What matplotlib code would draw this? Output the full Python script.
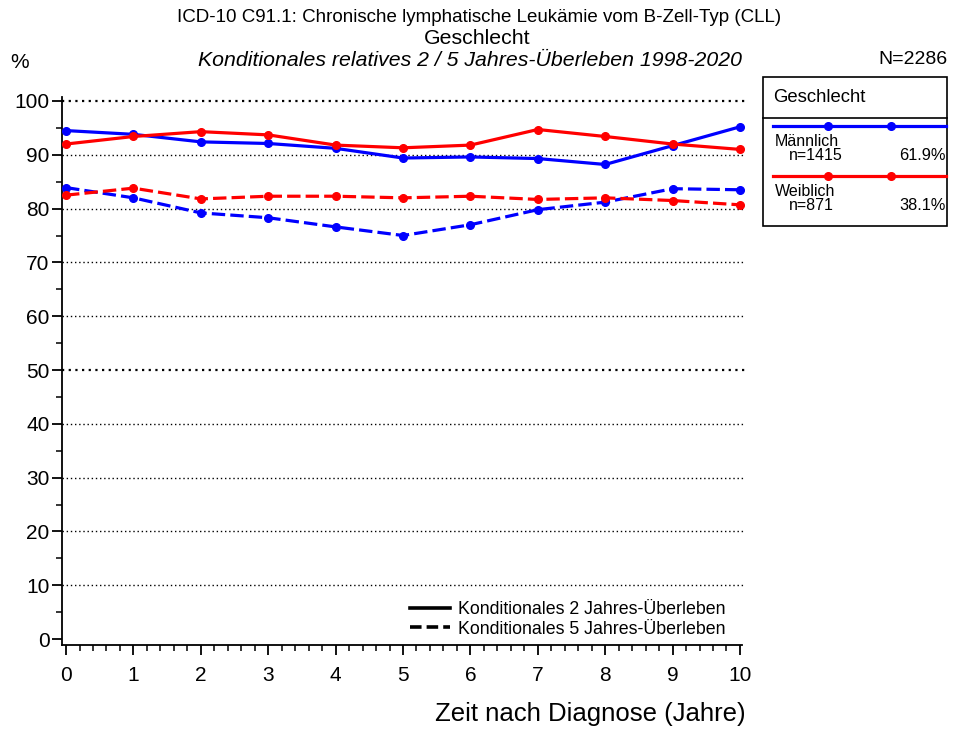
import matplotlib
matplotlib.use("Agg")
import matplotlib.pyplot as plt
from matplotlib.lines import Line2D
from matplotlib.patches import Rectangle

plt.rcParams['font.family'] = ['Liberation Sans', 'DejaVu Sans']

years = [0, 1, 2, 3, 4, 5, 6, 7, 8, 9, 10]
male_2y = [94.5, 93.8, 92.4, 92.1, 91.2, 89.4, 89.6, 89.3, 88.2, 91.7, 95.2]
female_2y = [92.0, 93.4, 94.3, 93.7, 91.8, 91.3, 91.8, 94.7, 93.4, 92.0, 91.0]
male_5y = [83.9, 82.0, 79.2, 78.3, 76.6, 75.0, 77.0, 79.8, 81.2, 83.7, 83.5]
female_5y = [82.5, 83.8, 81.8, 82.3, 82.3, 82.0, 82.3, 81.7, 82.0, 81.5, 80.7]

groups = ["Männlich", "Weiblich"]
group_n = ["n=1415", "n=871"]
group_pct = ["61.9%", "38.1%"]
colors = ["#0000ff", "#ff0000"]

yticks = [0, 10, 20, 30, 40, 50, 60, 70, 80, 90, 100]

W, H = 958, 729
fig = plt.figure(figsize=(W / 100, H / 100), dpi=100)

# axes box in pixel coordinates
left, right, top, bottom = 62, 742, 97, 645
ax = fig.add_axes([left / W, 1 - bottom / H, (right - left) / W, (bottom - top) / H])
ax.set_xlim(-0.06, 10.03)
ax.set_ylim(-1.1, 100.74)

# dotted reference lines
for v in yticks[1:]:
    lw = 1.6 if v in (50, 100) else 1.0
    ax.plot([-0.06, 10.08], [v, v], color="black", lw=lw, linestyle=(0, (1, 2)),
            clip_on=False, zorder=1)

lw_main = 2.3
dash = (0, (4.2, 1.6))
ax.plot(years, male_2y, color=colors[0], lw=lw_main, marker="o", ms=5.5, zorder=3, clip_on=False)
ax.plot(years, female_2y, color=colors[1], lw=lw_main, marker="o", ms=5.5, zorder=3, clip_on=False)
ax.plot(years, male_5y, color=colors[0], lw=lw_main, ls=dash, marker="o", ms=5.5, zorder=3, clip_on=False)
ax.plot(years, female_5y, color=colors[1], lw=lw_main, ls=dash, marker="o", ms=5.5, zorder=3, clip_on=False)

for s in ["top", "right"]:
    ax.spines[s].set_visible(False)
ax.spines["left"].set_linewidth(1.3)
ax.spines["bottom"].set_linewidth(1.3)

ax.set_yticks(yticks)
ax.set_yticks(range(5, 100, 10), minor=True)
ax.set_xticks(years)
ax.set_xticks([i / 5 for i in range(51) if i % 5], minor=True)
ax.tick_params(axis="both", which="major", length=7, width=1.3, labelsize=15, color="black")
ax.tick_params(axis="both", which="minor", length=4, width=1.1, color="black")
ax.tick_params(axis="y", pad=2)
ax.tick_params(axis="x", pad=8)

fig.text(479 / W, 1 - 18 / H, "ICD-10 C91.1: Chronische lymphatische Leukämie vom B-Zell-Typ (CLL)",
         ha="center", va="center", fontsize=13.5)
fig.text(477 / W, 1 - 38 / H, "Geschlecht", ha="center", va="center", fontsize=15.3)
fig.text(470 / W, 1 - 60 / H, "Konditionales relatives 2 / 5 Jahres-Überleben 1998-2020",
         ha="center", va="center", fontsize=15.3, style="italic")
fig.text(20 / W, 1 - 63 / H, "%", ha="center", va="center", fontsize=15)
fig.text(947 / W, 1 - 60 / H, "N=2286", ha="right", va="center", fontsize=14)
fig.text(746 / W, 1 - 714 / H, "Zeit nach Diagnose (Jahre)", ha="right", va="center", fontsize=18.5)

# legend box on the right
def fx(px):
    return px / W

def fy(py):
    return 1 - py / H

fig.patches.append(Rectangle((fx(763), fy(226)), fx(947) - fx(763), fy(77) - fy(226),
                             transform=fig.transFigure, fill=False, ec="black", lw=1.2))
fig.lines.append(Line2D([fx(763), fx(947)], [fy(118), fy(118)], transform=fig.transFigure,
                        color="black", lw=1.2))
fig.text(fx(773), fy(97), "Geschlecht", ha="left", va="center", fontsize=13.3)
for i, (g, n, p, c) in enumerate(zip(groups, group_n, group_pct, colors)):
    yl = 126 + i * 50
    fig.lines.append(Line2D([fx(773), fx(946)], [fy(yl), fy(yl)], transform=fig.transFigure,
                            color=c, lw=2.3))
    fig.lines.append(Line2D([fx(828), fx(891)], [fy(yl), fy(yl)], transform=fig.transFigure,
                            color=c, lw=0, marker="o", ms=5.5))
    fig.text(fx(775), fy(yl + 15), g, ha="left", va="center", fontsize=11.5)
    fig.text(fx(789), fy(yl + 30), n, ha="left", va="center", fontsize=11.5)
    fig.text(fx(946), fy(yl + 30), p, ha="right", va="center", fontsize=11.8)

# line-style key
for i, (ls, label) in enumerate([("-", "Konditionales 2 Jahres-Überleben"),
                                 ((0, (3.2, 1.4)), "Konditionales 5 Jahres-Überleben")]):
    yl = 608 + i * 19
    fig.lines.append(Line2D([fx(410), fx(450)], [fy(yl), fy(yl)], transform=fig.transFigure,
                            color="black", lw=2.6, ls=ls))
    fig.text(fx(458), fy(yl + 2), label, ha="left", va="center", fontsize=12.8)

fig.savefig("out.png", dpi=100)
